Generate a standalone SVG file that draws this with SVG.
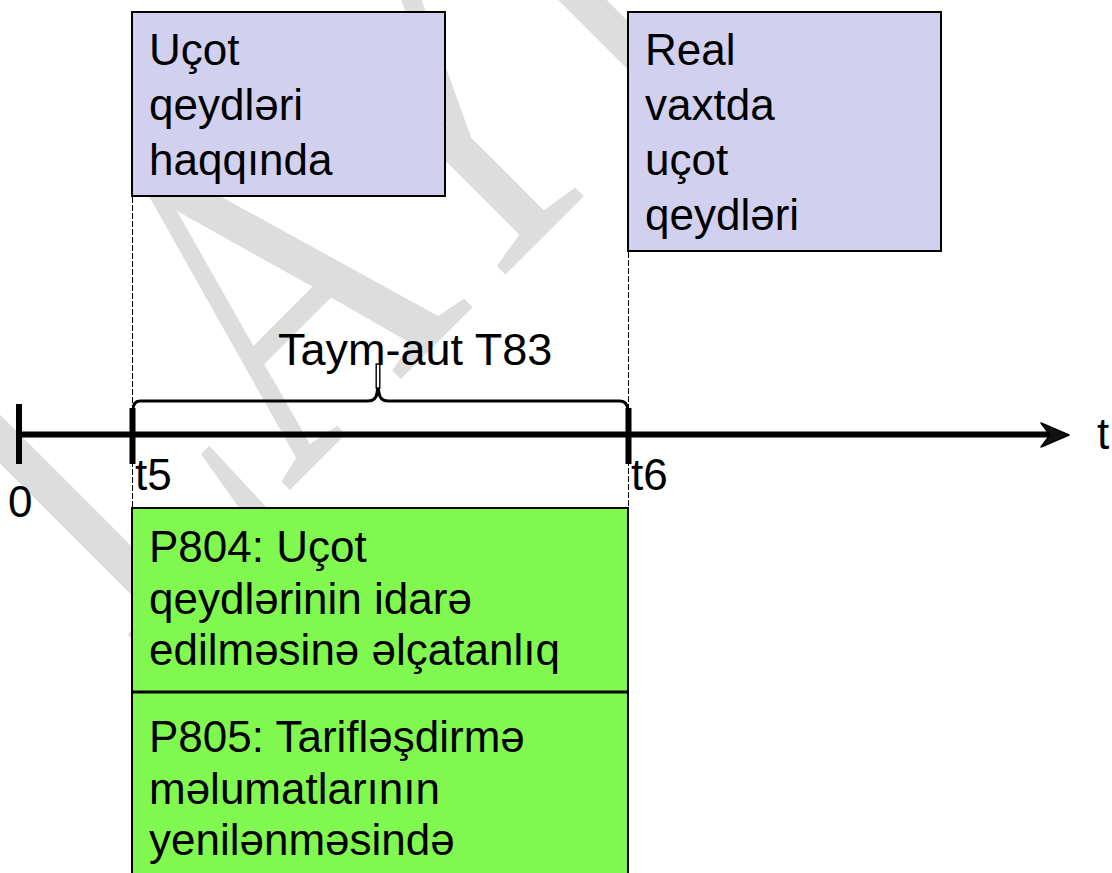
<svg xmlns="http://www.w3.org/2000/svg" width="1112" height="873" viewBox="0 0 1112 873">
  <style>
    .lbl { font-family: "Liberation Sans", Arial, sans-serif; font-size: 44px; fill: #000; }
    .note { fill: #d1d1ef; stroke: #000; stroke-width: 2; }
    .msg { fill: #80f850; stroke: #000; stroke-width: 2; }
    .guide { fill: none; stroke: #000; stroke-width: 1; stroke-dasharray: 6 2; }
    .axis { fill: none; stroke: #000; stroke-width: 6; }
    .tick { fill: none; stroke: #000; stroke-width: 6; }
    .brace { fill: none; stroke: #000; stroke-width: 3; stroke-linejoin: round; }
    .wm { font-family: "Liberation Serif", "Times New Roman", serif; font-size: 470px; fill: #dddddd; }
  </style>

  <rect width="1112" height="873" fill="#fff"/>

  <!-- background watermark -->
  <g id="watermark" transform="translate(129,651) rotate(-45) scale(0.78,1)">
    <text class="wm" x="0" y="0">LAYİ</text>
  </g>

  <!-- time axis with ticks and brace -->
  <g id="connectors">
    <line class="guide" x1="132.5" y1="197" x2="132.5" y2="508"/>
    <line class="guide" x1="628.5" y1="252" x2="628.5" y2="508"/>
    <line class="axis" x1="18" y1="434.5" x2="1058" y2="434.5"/>
    <path d="M1041,423 L1069,435 L1041,447 L1050,435 Z" fill="#111" stroke="#000" stroke-width="1.5" stroke-linejoin="round"/>
    <line class="tick" x1="19" y1="404" x2="19" y2="464"/>
    <line class="tick" x1="132.5" y1="408" x2="132.5" y2="464"/>
    <line class="tick" x1="628.5" y1="408" x2="628.5" y2="464"/>
    <path class="brace" d="M133,410 Q133,401 140,401 L368,401 Q376,401 377,393 L378,387 L379,393 Q380,401 388,401 L620,401 Q627,401 628,410"/>
    <rect x="376.2" y="364" width="3.6" height="24" fill="#fff" stroke="#000" stroke-width="1.4"/>
  </g>

  <g id="label-0"><text class="lbl" x="8" y="517">0</text></g>
  <g id="label-t5"><text class="lbl" x="135" y="490">t5</text></g>
  <g id="label-t6"><text class="lbl" x="631" y="490">t6</text></g>
  <g id="label-t"><text class="lbl" x="1097" y="449">t</text></g>
  <g id="label-timeout"><text class="lbl" x="278" y="365" style="font-size:45px">Taym-aut T83</text></g>

  <g id="note-records">
    <rect class="note" x="132" y="12" width="313" height="184"/>
    <text class="lbl" x="149" y="65">Uçot</text>
    <text class="lbl" x="149" y="120">qeydləri</text>
    <text class="lbl" x="149" y="175">haqqında</text>
  </g>

  <g id="note-realtime">
    <rect class="note" x="628" y="12" width="313" height="239"/>
    <text class="lbl" x="645" y="65">Real</text>
    <text class="lbl" x="645" y="120">vaxtda</text>
    <text class="lbl" x="645" y="175">uçot</text>
    <text class="lbl" x="645" y="230">qeydləri</text>
  </g>

  <g id="msg-p804">
    <rect class="msg" x="132" y="508" width="496" height="184"/>
    <text class="lbl" x="149" y="562">P804: Uçot</text>
    <text class="lbl" x="149" y="613.5">qeydlərinin idarə</text>
    <text class="lbl" x="149" y="665">edilməsinə əlçatanlıq</text>
  </g>

  <g id="msg-p805">
    <rect class="msg" x="132" y="692" width="496" height="200"/>
    <line x1="132" y1="692" x2="628" y2="692" stroke="#000" stroke-width="3"/>
    <text class="lbl" x="149" y="752">P805: Tarifləşdirmə</text>
    <text class="lbl" x="149" y="803.5">məlumatlarının</text>
    <text class="lbl" x="149" y="855">yenilənməsində</text>
  </g>
</svg>
